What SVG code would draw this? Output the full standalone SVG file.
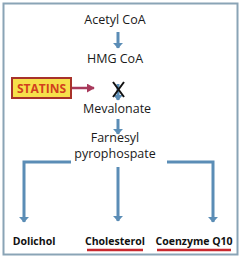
<svg xmlns="http://www.w3.org/2000/svg" width="241" height="262" viewBox="0 0 241 262">
<defs>
<style>
.t{font-family:"Open Sans","Liberation Sans",sans-serif;font-size:12.5px;fill:#1a1a1a;text-anchor:middle}
.b{font-family:"Open Sans","Liberation Sans",sans-serif;font-size:10.5px;font-weight:bold;fill:#111;text-anchor:middle}
.c{fill:none;stroke:#5b8db6;stroke-width:3}
.u{stroke:#c8282e;stroke-width:2.5}
</style>
<marker id="ah" viewBox="0 0 6 10" refX="5.5" refY="5" markerWidth="2" markerHeight="3.6" markerUnits="strokeWidth" orient="auto" preserveAspectRatio="none">
<path d="M0,0 L6,5 L0,10 Z" fill="#5b8db6"/>
</marker>
<marker id="rh" viewBox="0 0 10 10" refX="9" refY="5" markerWidth="3.2" markerHeight="3.6" markerUnits="strokeWidth" orient="auto" preserveAspectRatio="none">
<path d="M0,0 L10,5 L0,10 Z" fill="#a83a5c"/>
</marker>
</defs>
<rect x="3.5" y="3.5" width="234" height="251" fill="#fff" stroke="#8aa4b6" stroke-width="2"/>
<g id="connectors">
<line class="c" x1="118" y1="32" x2="118" y2="48" marker-end="url(#ah)"/>
<line class="c" x1="118" y1="84" x2="118" y2="100" marker-end="url(#ah)"/>
<line class="c" x1="118" y1="119" x2="118" y2="134" marker-end="url(#ah)"/>
<polyline class="c" points="71,162 24,162 24,222" marker-end="url(#ah)"/>
<line class="c" x1="118" y1="167" x2="118" y2="221" marker-end="url(#ah)"/>
<polyline class="c" points="167,162 213,162 213,222" marker-end="url(#ah)"/>
<line x1="71" y1="88" x2="94" y2="88" stroke="#a83a5c" stroke-width="2.5" marker-end="url(#rh)"/>
<path d="M113,82 L124,97 M124,82 L113,97" stroke="#111" stroke-width="2"/>
</g>
<g id="acetyl"><text class="t" x="115" y="24">Acetyl CoA</text></g>
<g id="hmg"><text class="t" x="115" y="63">HMG CoA</text></g>
<g id="statins">
<rect x="12" y="78" width="59" height="20" fill="#f6e04a" stroke="#a8322a" stroke-width="2"/>
<text x="41.5" y="93" font-family="'Open Sans','Liberation Sans',sans-serif" font-size="12" font-weight="bold" fill="#d2401e" text-anchor="middle">STATINS</text>
</g>
<g id="mevalonate"><text class="t" x="117" y="113">Mevalonate</text></g>
<g id="farnesyl"><text class="t" x="115" y="142">Farnesyl</text><text class="t" x="115" y="158">pyrophospate</text></g>
<g id="dolichol"><text class="b" x="34" y="245">Dolichol</text></g>
<g id="cholesterol"><text class="b" x="115" y="245">Cholesterol</text><line class="u" x1="87" y1="250" x2="143" y2="250"/></g>
<g id="coq10"><text class="b" x="194" y="245">Coenzyme Q10</text><line class="u" x1="157" y1="250" x2="231" y2="250"/></g>
</svg>
